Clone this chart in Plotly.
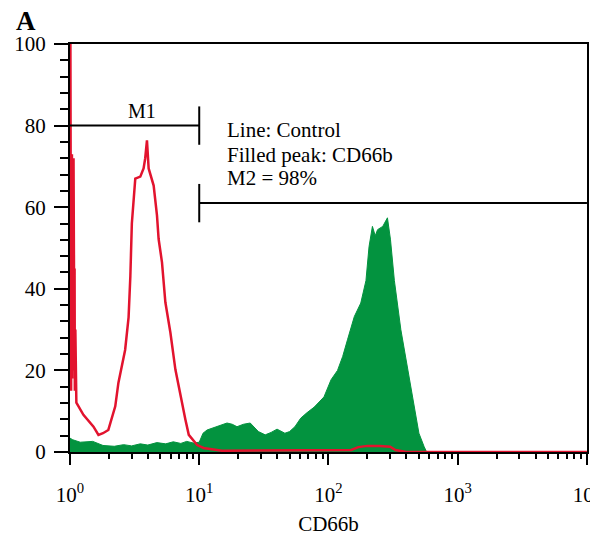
import math
import plotly.graph_objects as go

# ---- data ----
# CD66b (filled green histogram)
cd66b_x = [1.0, 1.05, 1.2, 1.5, 1.8, 2.2, 2.6, 3.0, 3.5, 4.0, 4.7, 5.5, 6.3, 7.2, 8.0, 9.0, 10.0,
           10.7, 11.5, 12.9, 14.5, 16.4, 18.0, 19.6, 22.0, 24.8, 28.7, 32.4, 36.0, 40.0, 46.0, 50.0,
           55.0, 61.0, 68.0, 77.6, 92.3, 104.7, 117.5, 128.8, 140.3, 158.5, 177.8, 195.0, 206.0,
           218.8, 230.0, 240.0, 263.0, 286.0, 302.0, 323.6, 363.0, 407.0, 462.0, 501.0, 550.0, 575.0]
cd66b_y = [3.4, 3.0, 2.4, 2.6, 1.6, 1.4, 1.8, 1.5, 2.0, 1.7, 2.3, 2.0, 2.5, 2.1, 2.6, 2.2, 2.4,
           4.6, 5.4, 5.9, 6.6, 7.1, 6.8, 6.2, 6.8, 7.1, 5.0, 4.2, 4.8, 5.6, 4.6, 5.0,
           6.2, 8.3, 9.6, 11.0, 13.5, 17.7, 20.0, 23.4, 27.5, 33.2, 36.5, 42.0, 50.3,
           55.3, 53.0, 54.5, 55.3, 57.4, 52.0, 42.0, 30.0, 21.0, 11.0, 4.6, 1.3, 0.0]

# Control (red line)
control_x = [1.0, 1.005, 1.01, 1.015, 1.02, 1.025, 1.03, 1.035, 1.04, 1.045, 1.05, 1.055, 1.06,
             1.065, 1.07, 1.075, 1.08, 1.085, 1.09, 1.1, 1.12, 1.27, 1.52, 1.66,
             1.8, 1.98, 2.24, 2.37, 2.67, 2.84, 2.93, 3.01, 3.2, 3.5, 3.71, 3.82, 3.94, 4.06,
             4.44, 4.71, 4.85, 5.15, 5.47, 5.98, 6.54, 7.15, 7.82, 8.3, 9.64, 10.8, 15.0,
             150.0, 170.0, 200.0, 250.0, 300.0, 330.0, 400.0, 10000.0]
control_y = [150, 72, 20, 74, 15, 70, 25, 73, 18, 72, 30, 66, 20, 72, 35, 60, 25, 45, 15, 30, 12.1,
             9.1, 6.2, 4.2,
             4.6, 5.4, 11.2, 17.0, 25.0, 33.0, 43.0, 56.0, 67.0, 67.5, 69.5, 72.0, 76.4, 69.5,
             65.3, 58.0, 52.2, 46.5, 36.7, 29.3, 20.2, 13.6, 7.9, 4.2, 1.7, 1.0, 0.3,
             0.5, 1.2, 1.5, 1.5, 1.3, 0.5, 0.0, 0.0]

# gate markers
m1_range = [1, 10]
m1_level = 80
m2_range = [10, 10000]
m2_level = 61
bar_half = 4.7

x_tickvals = [1, 10, 100, 1000, 10000]
x_ticktext = ["10<sup>0</sup>", "10<sup>1</sup>", "10<sup>2</sup>", "10<sup>3</sup>", "10<sup>4</sup>"]
x_minor = [m * 10 ** d for d in range(4) for m in range(2, 10)]
y_tickvals = [0, 20, 40, 60, 80, 100]

info_lines = ["Line: Control", "Filled peak: CD66b", "M2 = 98%"]

FONT = "Liberation Serif, Times New Roman, serif"
GREEN = "#03933f"
RED = "#e2132e"
FS = 21

fig = go.Figure()
fig.add_trace(go.Scatter(x=cd66b_x, y=cd66b_y, mode="lines", fill="tozeroy",
                         line=dict(color=GREEN, width=1), fillcolor=GREEN,
                         hoverinfo="skip", showlegend=False))
fig.add_trace(go.Scatter(x=control_x, y=control_y, mode="lines",
                         line=dict(color=RED, width=2.5), showlegend=False))
# M1 marker
fig.add_trace(go.Scatter(x=m1_range, y=[m1_level, m1_level], mode="lines",
                         line=dict(color="black", width=2), showlegend=False))
fig.add_trace(go.Scatter(x=[m1_range[1], m1_range[1]], y=[m1_level - bar_half, m1_level + bar_half],
                         mode="lines", line=dict(color="black", width=2), showlegend=False))
# M2 marker
fig.add_trace(go.Scatter(x=m2_range, y=[m2_level, m2_level], mode="lines",
                         line=dict(color="black", width=2), showlegend=False))
fig.add_trace(go.Scatter(x=[m2_range[0], m2_range[0]], y=[m2_level - bar_half, m2_level + bar_half],
                         mode="lines", line=dict(color="black", width=2), showlegend=False))

annotations = [
    dict(x=math.log10(3.6), y=83.6, xref="x", yref="y", text="M1", showarrow=False,
         font=dict(family=FONT, size=FS - 1, color="black"), xanchor="center", yanchor="middle"),
    dict(x=-0.085, y=1.056, xref="paper", yref="paper", text="<b>A</b>", showarrow=False,
         font=dict(family=FONT, size=27, color="black"), xanchor="center", yanchor="middle"),
    dict(x=-0.09, y=-0.213, xref="paper", yref="paper", text="<b>B</b>", showarrow=False,
         font=dict(family=FONT, size=27, color="black"), xanchor="center", yanchor="top"),
]
for t, yv in zip(info_lines, [79.0, 72.9, 67.2]):
    annotations.append(dict(x=math.log10(15.9), y=yv, xref="x", yref="y", text=t, showarrow=False,
                            font=dict(family=FONT, size=FS, color="black"),
                            xanchor="left", yanchor="middle"))

# page body has an 8px margin, so the figure is drawn 8px smaller
fig.update_layout(
    width=590, height=528,
    margin=dict(l=62, r=11, t=36, b=84),
    paper_bgcolor="white", plot_bgcolor="white",
    font=dict(family=FONT, size=FS, color="black"),
    annotations=annotations,
    showlegend=False,
)
fig.update_xaxes(
    type="log", range=[0, 4.0005], tickmode="array", tickvals=x_tickvals, ticktext=x_ticktext,
    ticks="outside", ticklen=11, tickwidth=2, tickcolor="black",
    showline=True, linecolor="black", linewidth=2, mirror=True, automargin=False,
    showgrid=False, zeroline=False, ticklabelstandoff=12, ticklabeloverflow="allow",
    tickfont=dict(family=FONT, size=FS),
    minor=dict(tickmode="array", tickvals=x_minor, ticks="outside", ticklen=5,
               tickwidth=2, tickcolor="black", showgrid=False),
    title=dict(text="CD66b", font=dict(family=FONT, size=FS), standoff=19),
)
fig.update_yaxes(
    range=[0, 100], tickmode="array", tickvals=y_tickvals,
    ticks="outside", ticklen=14, tickwidth=2, tickcolor="black",
    showline=True, linecolor="black", linewidth=2, mirror=True, automargin=False,
    showgrid=False, zeroline=False, ticklabelstandoff=4,
    tickfont=dict(family=FONT, size=FS),
    minor=dict(dtick=4, tick0=0, ticks="outside", ticklen=8, tickwidth=2,
               tickcolor="black", showgrid=False),
)

fig.write_html("out.html")
